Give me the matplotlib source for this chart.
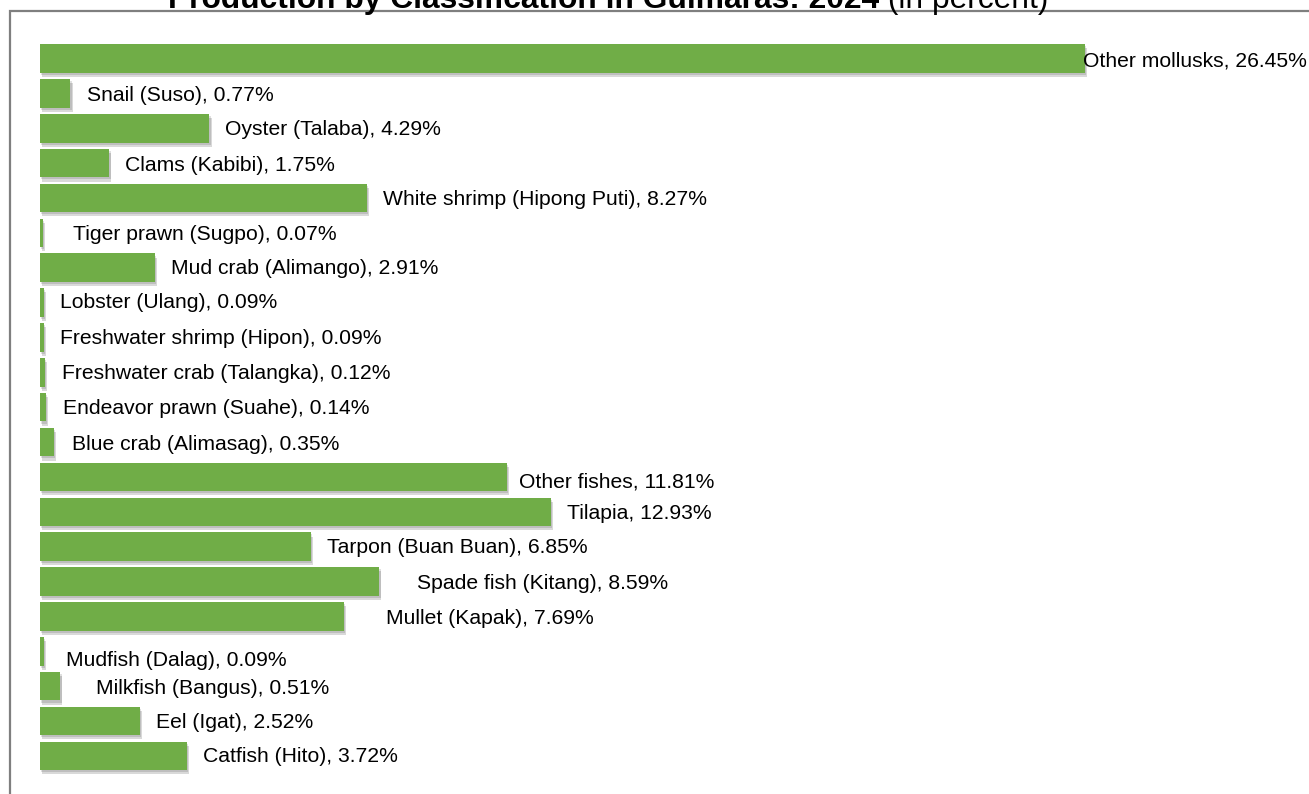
import matplotlib.pyplot as plt
import matplotlib.patheffects as pe
from matplotlib.patches import Rectangle

plt.rcParams['font.family'] = ['Liberation Sans', 'DejaVu Sans']

# categories, top to bottom
especies = [
    "Other mollusks", "Snail (Suso)", "Oyster (Talaba)", "Clams (Kabibi)",
    "White shrimp (Hipong Puti)", "Tiger prawn (Sugpo)", "Mud crab (Alimango)",
    "Lobster (Ulang)", "Freshwater shrimp (Hipon)", "Freshwater crab (Talangka)",
    "Endeavor prawn (Suahe)", "Blue crab (Alimasag)", "Other fishes", "Tilapia",
    "Tarpon (Buan Buan)", "Spade fish (Kitang)", "Mullet (Kapak)",
    "Mudfish (Dalag)", "Milkfish (Bangus)", "Eel (Igat)", "Catfish (Hito)",
]
percentuais = [
    26.45, 0.77, 4.29, 1.75, 8.27, 0.07, 2.91, 0.09, 0.09, 0.12, 0.14, 0.35,
    11.81, 12.93, 6.85, 8.59, 7.69, 0.09, 0.51, 2.52, 3.72,
]

# deslocamento dos rotulos (pixels), como no original
desloc_x = [-2, 17, 16, 16, 16, 30, 16, 16, 16, 17, 17, 18, 12, 16, 16, 38, 42, 22, 36, 16, 16]
desloc_y = [-3, -2, -1, -2, -2, -2, -1, 0, -1, -1, -1, -2, -5, -2, -1, -2, -2, -9, -2, -1, -1]

verde = "#70AD47"

fig = plt.figure(figsize=(13.09, 7.94), dpi=100)
W, H = 1309, 794

# moldura cinza do grafico
fig.patches.append(Rectangle((10 / W, -0.1), 1.2, 1 - 11 / H + 0.1,
                             transform=fig.transFigure, fill=False,
                             edgecolor="#7f7f7f", linewidth=1.6))

ax = fig.add_axes([40 / W, 0, 1260 / W, 1 - 11 / H])
posicoes = list(range(len(especies)))
barras = ax.barh(posicoes, percentuais, height=0.82, color=verde,
                 edgecolor="none")
for b in barras:
    b.set_path_effects([pe.SimplePatchShadow(offset=(1.5, -3), shadow_rgbFace="#000000", alpha=0.15),
                        pe.SimplePatchShadow(offset=(1, -1.5), shadow_rgbFace="#000000", alpha=0.12),
                        pe.Normal()])

for i, (nome, valor) in enumerate(zip(especies, percentuais)):
    ax.annotate(f"{nome}, {valor:.2f}%", xy=(valor, i),
                xytext=(desloc_x[i], desloc_y[i]), textcoords="offset pixels",
                va="center", ha="left", fontsize=15.2, color="#000000")

ax.set_xlim(0, 1260 / 39.51)
ax.set_ylim((794 - 58.5) / 34.87, (11 - 58.5) / 34.87)
ax.axis("off")

# titulo (parte negrito + parte normal), cortado no topo como no original
t1 = fig.text(168 / W, 1 - 8 / H, "Production by Classification in Guimaras: 2024",
              fontsize=22.9, fontweight="bold", va="baseline", ha="left")
fig.canvas.draw()
bb = t1.get_window_extent()
fig.text(bb.x1 / W, 1 - 8 / H, " (in percent)", fontsize=22.9, va="baseline", ha="left")

plt.savefig("out.png", dpi=100)
